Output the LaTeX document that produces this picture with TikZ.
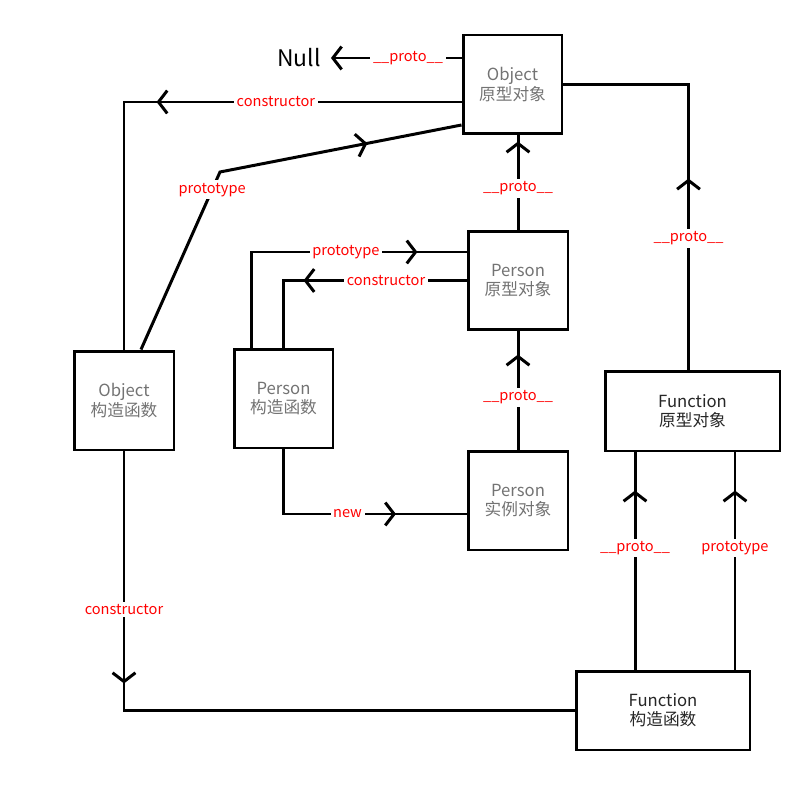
\documentclass[tikz,border=0pt]{standalone}
\usepackage{fontspec}
\newfontfamily\cjk{Noto Sans CJK SC}
\usetikzlibrary{arrows.meta,decorations.markings}
\begin{document}
\begin{tikzpicture}[x=0.02cm, y=-0.02cm, line width=1.7pt, font=\cjk,
		>={Straight Barb[length=5pt,width=13pt]},
		box/.style={draw, line width=1.7pt, align=center, inner sep=0pt, text=black!55, font=\cjk\fontsize{9.5}{11}\selectfont},
		fbox/.style={box, text=black!85},
		lbl/.style={fill=white, text=red, inner sep=1.5pt, font=\cjk\fontsize{8.3}{10}\selectfont},
		arrowat/.style={postaction={decorate, decoration={markings, mark=at position #1 with {\arrow{>}}}}}]
	\useasboundingbox (0,0) rectangle (800,800);
	\node[font=\cjk\fontsize{13}{15}\selectfont, inner ysep=1pt, inner xsep=5pt] (null) at (299,58) {Null};
	\node[box, minimum width=1.98cm, minimum height=1.98cm] (objp) at (512.5,84.5) {Object\\原型对象};
	\node[box, minimum width=2cm, minimum height=1.98cm] (objc) at (124,400.5) {Object\\构造函数};
	\node[box, minimum width=1.98cm, minimum height=1.98cm] (perc) at (283.5,398.5) {Person\\构造函数};
	\node[box, minimum width=2cm, minimum height=1.98cm] (perp) at (518,280.5) {Person\\原型对象};
	\node[box, minimum width=2cm, minimum height=1.98cm] (peri) at (518,500.5) {Person\\实例对象};
	\node[fbox, minimum width=3.5cm, minimum height=1.6cm] (funp) at (692.5,411) {Function\\原型对象};
	\node[fbox, minimum width=3.48cm, minimum height=1.58cm] (func) at (663,710.5) {Function\\构造函数};
	\coordinate (c1) at ([yshift=-0.35cm]objp.west);
	\coordinate (c2) at (220,172);
	\coordinate (c3) at ([yshift=0.57cm]perp.west);
	\coordinate (c4) at ([yshift=-0.27cm]peri.west);
	\draw[->] (objp.west |- null) -- node[lbl, pos=0.41] {\_\_proto\_\_} (null.east);
	\draw[arrowat=6.1cm] (c1) -- node[lbl, pos=0.55] {constructor} (c1 -| objc.north) -- (objc.north);
	\draw[arrowat=6.89cm] ([xshift=0.34cm]objc.north) -- node[lbl, pos=0.9] {prototype} (c2) -- ([yshift=-0.81cm]objp.west);
	\draw[arrowat=3.82cm] ([xshift=-0.08cm]funp.north) -- node[lbl, pos=0.46] {\_\_proto\_\_} ([xshift=-0.08cm]funp.north |- objp.east) -- (objp.east);
	\draw[arrowat=1.76cm] (perp.north) -- node[lbl, pos=0.44] {\_\_proto\_\_} (perp.north |- objp.south);
	\draw[arrowat=5.24cm] ([xshift=-0.65cm]perc.north) |- node[lbl, pos=0.72] {prototype} (c3);
	\draw[arrowat=3.26cm] (perp.west) -| node[lbl, pos=0.22] {constructor} (perc.north);
	\draw[arrowat=3.54cm] (perc.south) |- node[lbl, pos=0.675] {new} (c4);
	\draw[arrowat=1.9cm] (peri.north) -- node[lbl, pos=0.44] {\_\_proto\_\_} (perp.south);
	\draw[arrowat=4.64cm] (objc.south) |- node[lbl, pos=0.305] {constructor} (func.west);
	\draw[arrowat=3.58cm] ([xshift=-0.56cm]func.north) -- node[lbl, pos=0.56] {\_\_proto\_\_} ([xshift=-0.56cm]func.north |- funp.south);
	\draw[arrowat=3.58cm] ([xshift=1.44cm]func.north) -- node[lbl, pos=0.56] {prototype} ([xshift=1.44cm]func.north |- funp.south);
\end{tikzpicture}
\end{document}
